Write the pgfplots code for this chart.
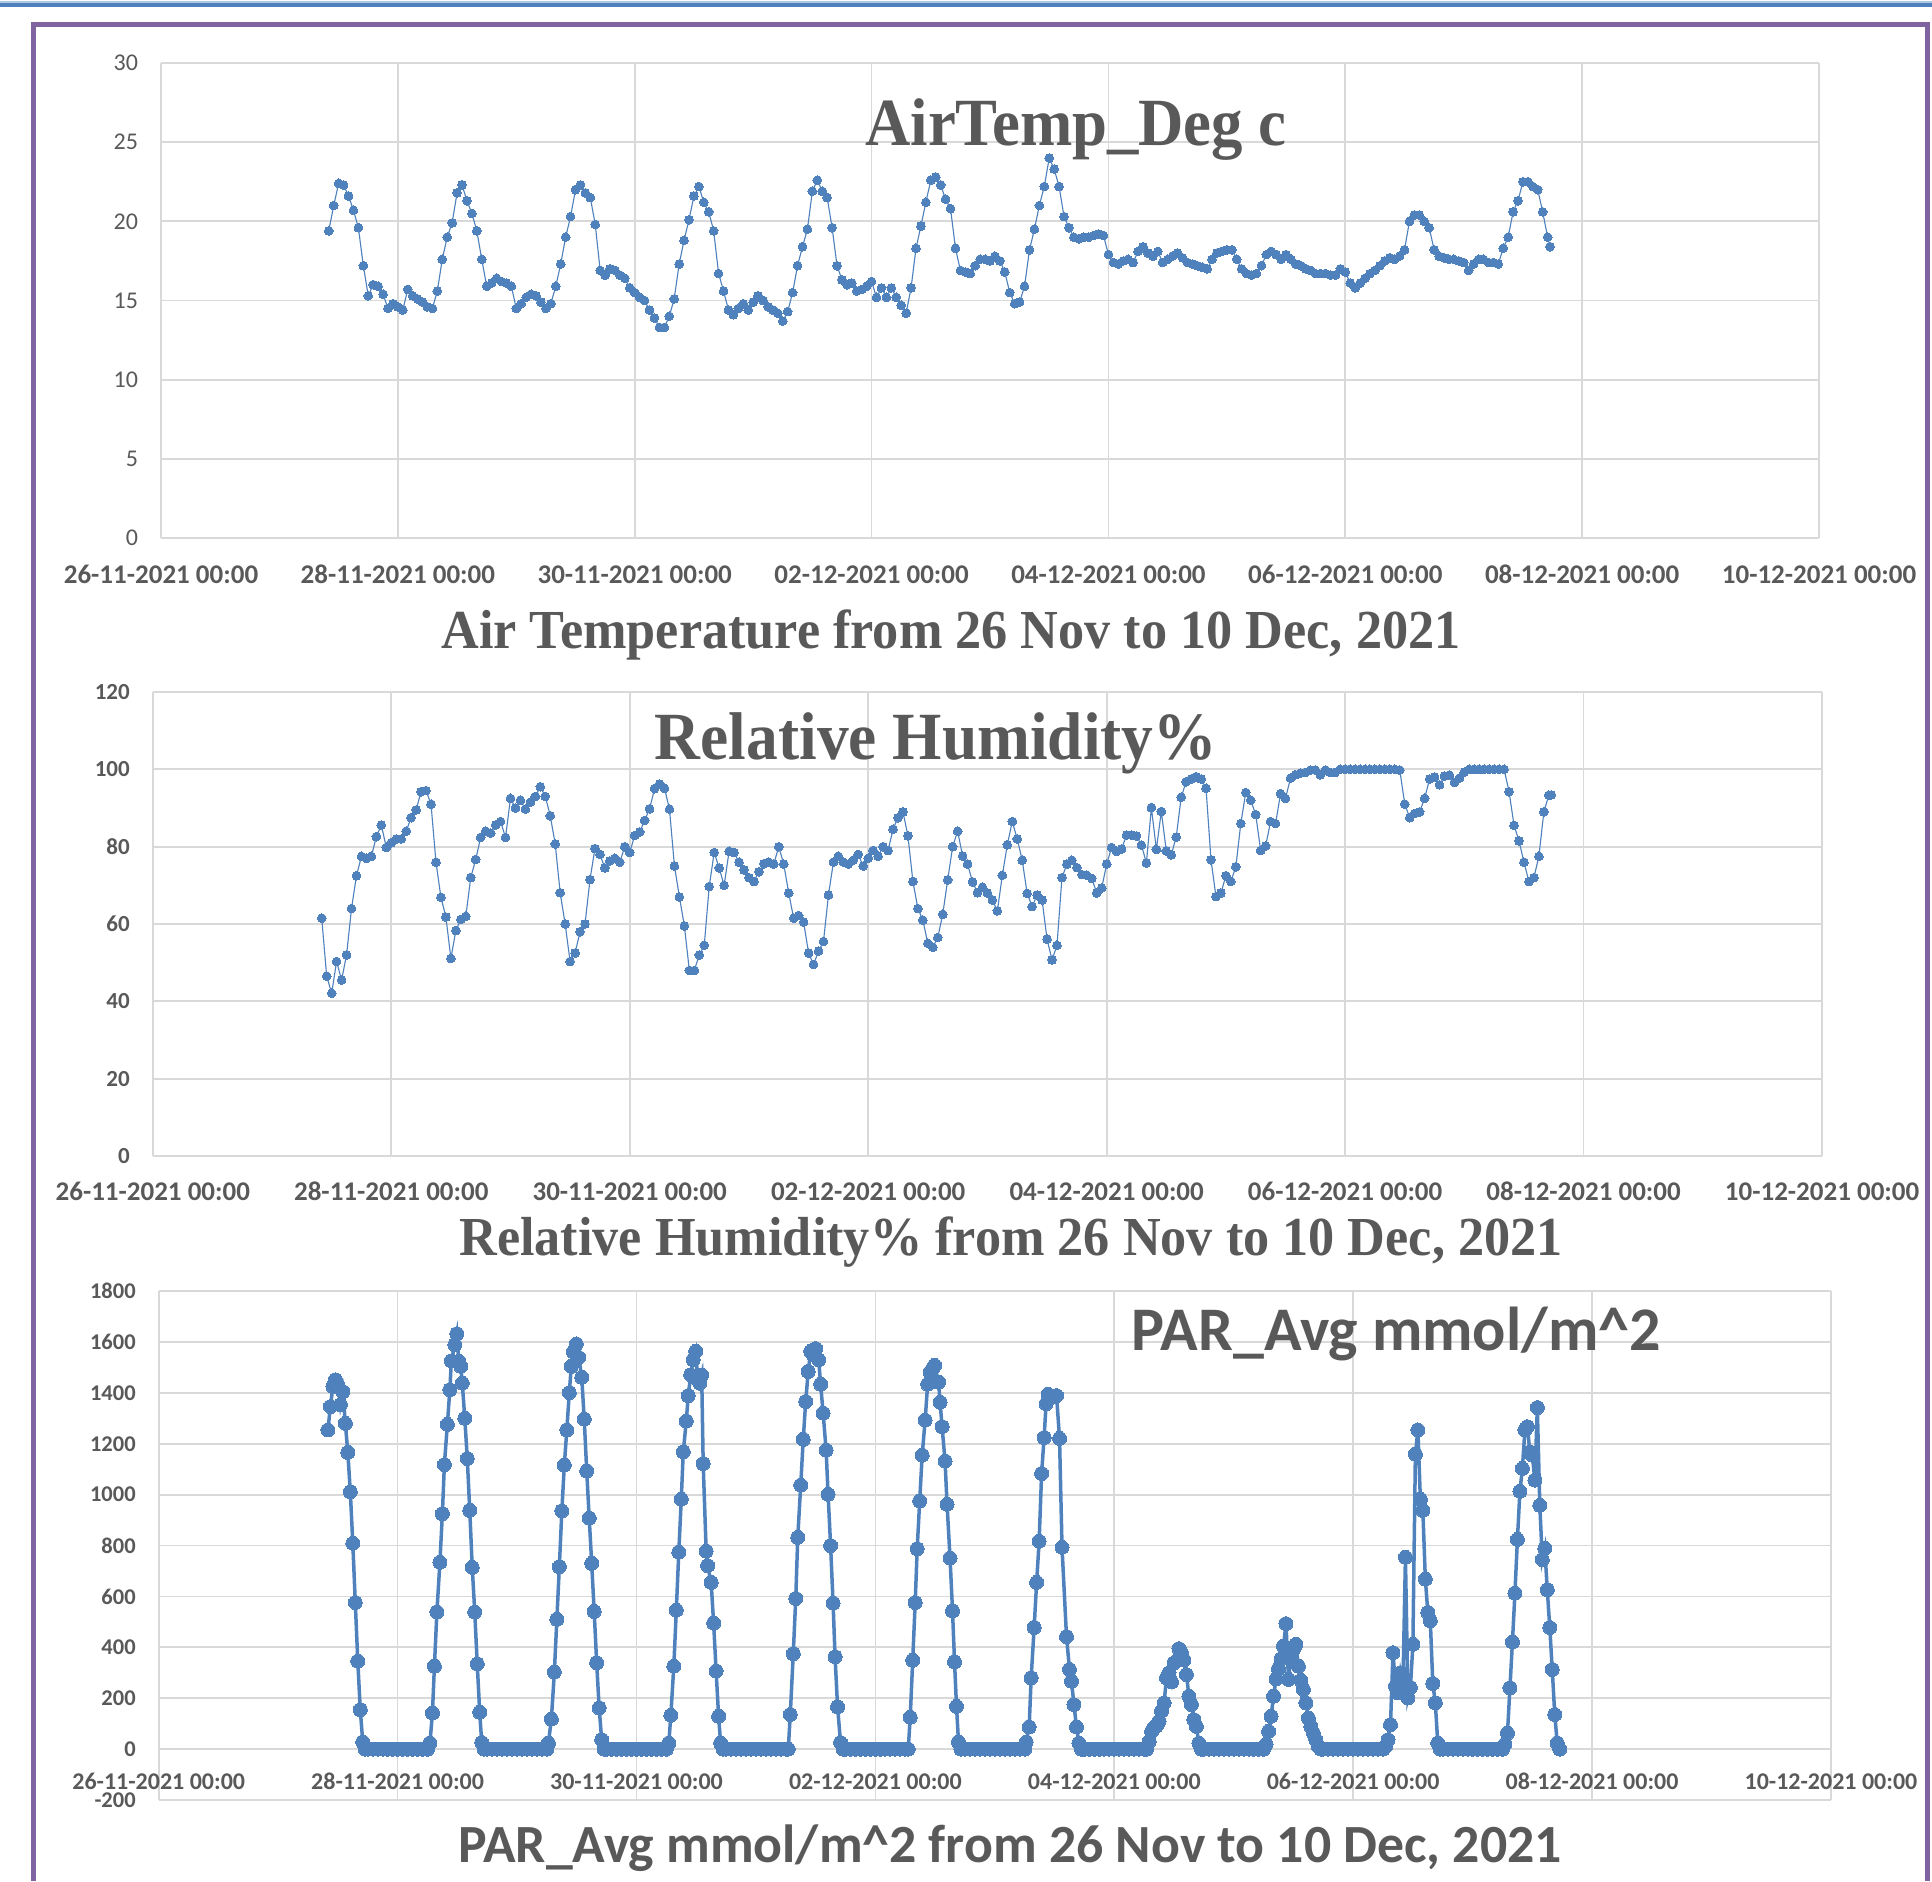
\documentclass[border=0pt]{standalone}
\usepackage{fontspec}
\setmainfont{Carlito}
\newfontfamily\timesfont{Liberation Serif}
\usepackage{pgfplots}
\pgfplotsset{compat=1.18}
\definecolor{ser}{HTML}{4F81BD}
\definecolor{gridc}{HTML}{D9D9D9}
\definecolor{txt}{HTML}{595959}
\definecolor{purp}{HTML}{8064A2}
\pgfplotsset{
  base/.style={
    scale only axis,
    xmin=0, xmax=336,
    xtick={0,48,...,336},
    xticklabels={26-11-2021 00:00,28-11-2021 00:00,30-11-2021 00:00,02-12-2021 00:00,04-12-2021 00:00,06-12-2021 00:00,08-12-2021 00:00,10-12-2021 00:00},
    grid=major,
    grid style={gridc, line width=0.7pt},
    axis line style={gridc, line width=0.7pt},
    axis x line*=bottom, axis y line*=left,
    major tick length=0pt,
    tick style={draw=none},
    /pgf/number format/assume math mode=true,
    /pgf/number format/1000 sep={},
    tick label style={text=txt},
    yticklabel style={anchor=east, inner sep=0pt, xshift=-9pt},
    clip=false,
  },
  smallser/.style={color=ser, line width=0.45pt, mark=*, mark size=1.75pt, mark options={fill=ser, draw=ser, line width=0pt}},
  bigser/.style={color=ser, line width=1.4pt, mark=*, mark size=2.8pt, mark options={fill=ser, draw=ser, line width=0pt}},
}
\begin{document}
\begin{tikzpicture}
\useasboundingbox (0,0) rectangle (772.8pt,-752.4pt);
\fill[ser!45!white] (0,-0.4pt) rectangle (772.8pt,-1.1pt);
\fill[ser] (0,-1.1pt) rectangle (772.8pt,-2.9pt);
\draw[purp, line width=2pt] (13.2pt,-752.4pt) -- (13.2pt,-9.9pt) -- (771pt,-9.9pt) -- (771pt,-752.4pt);

% ---------- Chart 1: Air temperature ----------
\begin{axis}[base, at={(64.4pt,-215.2pt)}, anchor=south west, width=663.2pt, height=190pt,
  ymin=0, ymax=30, ytick={0,5,...,30},
  yticklabel style={font=\fontsize{9.6}{11}\selectfont},
  xticklabel style={font=\bfseries\fontsize{10.8}{12}\selectfont, anchor=base, yshift=-18.1pt},
]
\addplot[smallser] coordinates {
(34,19.4)(35,21.0)(36,22.4)(37,22.3)(38,21.6)(39,20.7)(40,19.6)(41,17.2)(42,15.3)(43,16.0)(44,15.9)(45,15.4)(46,14.5)(47,14.8)(48,14.6)(49,14.4)
(50,15.7)(51,15.3)(52,15.1)(53,14.9)(54,14.6)(55,14.5)(56,15.6)(57,17.6)(58,19.0)(59,19.9)(60,21.8)(61,22.3)(62,21.3)(63,20.5)(64,19.4)(65,17.6)
(66,15.9)(67,16.1)(68,16.4)(69,16.2)(70,16.1)(71,15.9)(72,14.5)(73,14.8)(74,15.2)(75,15.4)(76,15.3)(77,14.9)(78,14.5)(79,14.8)(80,15.9)(81,17.3)
(82,19.0)(83,20.3)(84,22.0)(85,22.3)(86,21.8)(87,21.5)(88,19.8)(89,16.9)(90,16.6)(91,17.0)(92,16.9)(93,16.6)(94,16.4)(95,15.8)(96,15.5)(97,15.2)
(98,15.0)(99,14.4)(100,13.9)(101,13.3)(102,13.3)(103,14.0)(104,15.1)(105,17.3)(106,18.8)(107,20.1)(108,21.6)(109,22.2)(110,21.2)(111,20.6)(112,19.4)
(113,16.7)(114,15.6)(115,14.4)(116,14.1)(117,14.5)(118,14.8)(119,14.4)(120,14.9)(121,15.3)(122,15.0)(123,14.6)(124,14.4)(125,14.2)(126,13.7)(127,14.3)
(128,15.5)(129,17.2)(130,18.4)(131,19.5)(132,21.9)(133,22.6)(134,21.9)(135,21.5)(136,19.6)(137,17.2)(138,16.3)(139,16.0)(140,16.1)(141,15.6)(142,15.7)
(143,15.9)(144,16.2)(145,15.2)(146,15.8)(147,15.2)(148,15.8)(149,15.2)(150,14.7)(151,14.2)(152,15.8)(153,18.3)(154,19.7)(155,21.2)(156,22.6)(157,22.8)
(158,22.3)(159,21.4)(160,20.8)(161,18.3)(162,16.9)(163,16.8)(164,16.7)(165,17.2)(166,17.6)(167,17.6)(168,17.5)(169,17.8)(170,17.5)(171,16.8)(172,15.5)
(173,14.8)(174,14.9)(175,15.9)(176,18.2)(177,19.5)(178,21.0)(179,22.2)(180,24.0)(181,23.3)(182,22.2)(183,20.3)(184,19.6)(185,19.0)(186,18.9)(187,19.0)
(188,19.0)(189,19.1)(190,19.2)(191,19.1)(192,17.9)(193,17.4)(194,17.3)(195,17.5)(196,17.6)(197,17.4)(198,18.1)(199,18.4)(200,18.0)(201,17.8)(202,18.1)
(203,17.4)(204,17.6)(205,17.8)(206,18.0)(207,17.7)(208,17.4)(209,17.3)(210,17.2)(211,17.1)(212,17.0)(213,17.6)(214,18.0)(215,18.1)(216,18.2)(217,18.2)
(218,17.6)(219,17.0)(220,16.7)(221,16.6)(222,16.7)(223,17.2)(224,17.9)(225,18.1)(226,17.9)(227,17.6)(228,17.9)(229,17.6)(230,17.3)(231,17.2)(232,17.0)
(233,16.9)(234,16.7)(235,16.7)(236,16.7)(237,16.6)(238,16.6)(239,17.0)(240,16.8)(241,16.1)(242,15.8)(243,16.1)(244,16.4)(245,16.7)(246,16.9)(247,17.2)
(248,17.5)(249,17.7)(250,17.6)(251,17.8)(252,18.2)(253,20.0)(254,20.4)(255,20.4)(256,20.0)(257,19.6)(258,18.2)(259,17.8)(260,17.7)(261,17.6)(262,17.6)
(263,17.5)(264,17.4)(265,16.9)(266,17.3)(267,17.6)(268,17.6)(269,17.4)(270,17.4)(271,17.3)(272,18.3)(273,19.0)(274,20.6)(275,21.3)(276,22.5)(277,22.5)
(278,22.2)(279,22.0)(280,20.6)(281,19.0)(281.5,18.4)
};
\end{axis}
\node[anchor=base, font=\timesfont\bfseries\fontsize{27}{30}\selectfont, text=txt, inner sep=0pt] at (430.4pt,-58pt) {\scalebox{0.93}[1]{AirTemp\_Deg c}};
\node[anchor=base, font=\timesfont\bfseries\fontsize{22}{26}\selectfont, text=txt, inner sep=0pt] at (380.4pt,-259.3pt) {\scalebox{0.95}[1]{Air Temperature from 26 Nov to 10 Dec, 2021}};

% ---------- Chart 2: Relative humidity ----------
\begin{axis}[base, at={(61.12pt,-462.4pt)}, anchor=south west, width=667.7pt, height=185.6pt,
  ymin=0, ymax=120, ytick={0,20,...,120},
  yticklabel style={font=\bfseries\fontsize{9.2}{11}\selectfont},
  xticklabel style={font=\bfseries\fontsize{10.8}{12}\selectfont, anchor=base, yshift=-17.6pt},
]
\addplot[smallser] coordinates {
(34,61.5)(35,46.5)(36,42.1)(37,50.3)(38,45.5)(39,52.0)(40,64.0)(41,72.5)(42,77.5)(43,77.0)(44,77.5)(45,82.6)(46,85.6)(47,79.8)(48,81.0)(49,82.0)
(50,82.0)(51,84.0)(52,87.5)(53,89.5)(54,94.2)(55,94.5)(56,91.0)(57,76.0)(58,66.9)(59,61.8)(60,51.1)(61,58.3)(62,61.2)(63,62.0)(64,72.0)(65,76.7)
(66,82.4)(67,84.0)(68,83.5)(69,85.6)(70,86.5)(71,82.4)(72,92.5)(73,90.0)(74,92.0)(75,89.7)(76,91.5)(77,93.0)(78,95.5)(79,93.0)(80,88.0)(81,80.7)
(82,68.1)(83,60.0)(84,50.3)(85,52.5)(86,58.0)(87,60.0)(88,71.5)(89,79.5)(90,78.0)(91,74.5)(92,76.3)(93,77.0)(94,76.0)(95,80.0)(96,78.5)(97,82.9)
(98,83.8)(99,86.8)(100,89.8)(101,95.0)(102,96.2)(103,95.1)(104,89.7)(105,75.0)(106,67.0)(107,59.5)(108,48.0)(109,48.0)(110,52.0)(111,54.5)(112,69.7)
(113,78.5)(114,74.5)(115,70.0)(116,78.8)(117,78.5)(118,76.0)(119,74.0)(120,72.0)(121,71.0)(122,73.5)(123,75.6)(124,76.0)(125,75.5)(126,80.0)(127,75.5)
(128,68.0)(129,61.5)(130,62.2)(131,60.5)(132,52.5)(133,49.5)(134,53.0)(135,55.5)(136,67.5)(137,76.0)(138,77.5)(139,76.0)(140,75.5)(141,76.5)(142,78.0)
(143,75.0)(144,77.0)(145,79.0)(146,77.5)(147,80.0)(148,79.0)(149,84.5)(150,87.5)(151,89.0)(152,82.8)(153,71.0)(154,64.0)(155,61.0)(156,55.0)(157,54.0)
(158,56.5)(159,62.5)(160,71.4)(161,80.0)(162,84.0)(163,77.6)(164,75.5)(165,70.9)(166,68.1)(167,69.5)(168,68.0)(169,66.2)(170,63.4)(171,72.6)(172,80.5)
(173,86.5)(174,82.0)(175,76.5)(176,67.9)(177,64.5)(178,67.5)(179,66.2)(180,56.1)(181,50.7)(182,54.5)(183,72.0)(184,75.5)(185,76.5)(186,74.6)(187,72.8)
(188,72.6)(189,71.8)(190,68.0)(191,69.3)(192,75.5)(193,79.8)(194,78.8)(195,79.4)(196,83.0)(197,83.0)(198,82.8)(199,80.4)(200,75.8)(201,90.1)(202,79.3)
(203,89.1)(204,78.9)(205,77.9)(206,82.5)(207,92.8)(208,96.8)(209,97.5)(210,98.1)(211,97.5)(212,95.1)(213,76.6)(214,67.1)(215,68.0)(216,72.5)(217,71.0)
(218,74.8)(219,86.0)(220,94.0)(221,92.0)(222,88.3)(223,79.0)(224,80.2)(225,86.5)(226,86.0)(227,93.7)(228,92.5)(229,97.7)(230,98.6)(231,99.0)(232,99.2)
(233,99.8)(234,99.8)(235,98.6)(236,99.8)(237,99.2)(238,99.2)(239,100)(240,100)(241,100)(242,100)(243,100)(244,100)(245,100)(246,100)(247,100)
(248,100)(249,100)(250,100)(251,99.8)(252,91.0)(253,87.5)(254,88.6)(255,89.0)(256,92.5)(257,97.5)(258,98.0)(259,96.0)(260,98.3)(261,98.5)(262,96.6)
(263,97.7)(264,99.3)(265,100)(266,100)(267,100)(268,100)(269,100)(270,100)(271,100)(272,100)(273,94.2)(274,85.5)(275,81.5)(276,76.0)(277,71.0)
(278,72.0)(279,77.5)(280,89.0)(281,93.3)(281.5,93.4)
};
\end{axis}
\node[anchor=base, font=\timesfont\bfseries\fontsize{27}{30}\selectfont, text=txt, inner sep=0pt] at (374.4pt,-303.6pt) {\scalebox{0.94}[1]{Relative Humidity\%}};
\node[anchor=base, font=\timesfont\bfseries\fontsize{22}{26}\selectfont, text=txt, inner sep=0pt] at (404.4pt,-502pt) {\scalebox{0.95}[1]{Relative Humidity\% from 26 Nov to 10 Dec, 2021}};

% ---------- Chart 3: PAR ----------
\begin{axis}[base, at={(63.48pt,-720pt)}, anchor=south west, width=668.9pt, height=203.6pt,
  ymin=-200, ymax=1800, ytick={-200,0,...,1800},
  yticklabel style={font=\bfseries\fontsize{9}{11}\selectfont},
  xticklabel style={font=\bfseries\fontsize{9.6}{11}\selectfont, anchor=base, yshift=4.3pt},
]
\addplot[bigser] coordinates {
(34.0,1254)(34.5,1346)(35.0,1425)(35.5,1451)(36.0,1429)(36.5,1353)(37.0,1405)(37.5,1280)(38.0,1166)(38.5,1011)(39.0,809)(39.5,576)(40.0,346)(40.5,155)(41.0,28)(41.5,0)
(42,0)(43,0)(44,0)(45,0)(46,0)(47,0)(48,0)(49,0)(50,0)(51,0)(52,0)(53,0)(54,0)
(54.5,24)(55.0,142)(55.4,326)(55.9,539)(56.5,734)(57.0,925)(57.4,1118)(58.0,1276)(58.5,1412)(58.8,1526)(59.5,1589)(59.9,1632)(60.3,1524)(60.7,1504)(61.0,1438)(61.5,1300)(62.0,1142)(62.5,938)(63.0,714)(63.5,539)(64.0,335)(64.5,145)(64.9,26)(65.4,0)
(66,0)(67,0)(68,0)(69,0)(70,0)(71,0)(72,0)(73,0)(74,0)(75,0)(76,0)(77,0)(78,0)
(78.3,24)(78.9,118)(79.5,303)(80.0,510)(80.5,717)(81.0,936)(81.5,1116)(82.0,1254)(82.5,1401)(82.9,1504)(83.3,1561)(83.9,1592)(84.4,1539)(85.0,1461)(85.5,1297)(86.0,1093)(86.5,908)(87.0,730)(87.5,541)(88.0,339)(88.5,162)(89.0,37)(89.5,0)
(90,0)(91,0)(92,0)(93,0)(94,0)(95,0)(96,0)(97,0)(98,0)(99,0)(100,0)(101,0)(102,0)
(102.5,24)(102.9,133)(103.5,326)(104.0,546)(104.5,774)(105.0,982)(105.4,1168)(106.0,1289)(106.4,1389)(106.9,1471)(107.4,1530)(107.9,1563)(108.3,1451)(108.7,1438)(109.1,1470)(109.4,1122)(110.0,778)(110.3,721)(111.0,655)(111.5,495)(112.0,307)(112.5,129)(112.9,24)(113.4,0)
(114,0)(115,0)(116,0)(117,0)(118,0)(119,0)(120,0)(121,0)(122,0)(123,0)(124,0)(125,0)(126,0)
(126.5,0)(126.9,136)(127.5,375)(128.0,592)(128.4,832)(129.0,1037)(129.5,1217)(130.0,1366)(130.5,1484)(131.0,1563)(131.5,1550)(132.0,1574)(132.6,1530)(133.0,1434)(133.5,1320)(134.1,1175)(134.5,1001)(135.0,800)(135.5,574)(135.9,363)(136.4,166)(137.0,26)(137.5,0)
(138,0)(139,0)(140,0)(141,0)(142,0)(143,0)(144,0)(145,0)(146,0)(147,0)(148,0)(149,0)(150,0)
(150.6,0)(151.0,125)(151.5,349)(152.0,576)(152.4,787)(152.9,975)(153.4,1155)(154.0,1293)(154.5,1434)(155.0,1482)(155.5,1495)(155.9,1508)(156.7,1442)(157.0,1363)(157.4,1267)(158.0,1132)(158.4,962)(159.0,751)(159.5,543)(159.9,343)(160.3,168)(160.7,28)(161.2,0)
(162,0)(163,0)(164,0)(165,0)(166,0)(167,0)(168,0)(169,0)(170,0)(171,0)(172,0)(173,0)(174,0)
(174.3,28)(174.9,87)(175.3,280)(175.9,478)(176.4,655)(176.9,817)(177.4,1083)(177.9,1224)(178.3,1357)(178.7,1395)(179.1,1379)(179.8,1386)(180.4,1389)(181.0,1221)(181.5,793)(182.4,442)(183.0,313)(183.4,267)(183.9,175)(184.4,87)(184.9,24)(185.4,0)
(186,0)(187,0)(188,0)(189,0)(190,0)(191,0)(192,0)(193,0)(194,0)(195,0)(196,0)(197,0)(198,0)
(198.5,0)(199.0,30)(199.5,70)(200.0,85)(200.5,92)(201.0,110)(201.5,150)(202.0,182)(202.5,280)(203.0,300)(203.5,264)(204.0,339)(204.5,346)(205.0,395)(205.5,379)(206.0,350)(206.5,293)(207.0,208)(207.5,175)(208.0,116)(208.5,89)(209.0,24)(209.5,0)
(210,0)(211,0)(212,0)(213,0)(214,0)(215,0)(216,0)(217,0)(218,0)(219,0)(220,0)(221,0)(222,0)
(222.5,20)(223.0,70)(223.5,129)(224.0,208)(224.5,276)(225.0,316)(225.5,355)(226.0,405)(226.5,493)(227.0,274)(227.5,366)(228.0,392)(228.5,412)(229.0,326)(229.5,270)(230.0,234)(230.5,182)(231.0,122)(231.5,89)(232.0,63)(232.5,37)(233.0,10)(233.5,0)
(234,0)(235,0)(236,0)(237,0)(238,0)(239,0)(240,0)(241,0)(242,0)(243,0)(244,0)(245,0)(246,0)
(246.5,10)(247.0,37)(247.5,96)(248.0,379)(248.5,247)(249.0,221)(249.5,300)(250.0,250)(250.5,754)(251.0,201)(251.5,241)(252.0,412)(252.5,1159)(253.0,1254)(253.5,982)(254.0,938)(254.5,668)(255.0,537)(255.5,504)(256.0,258)(256.5,182)(257.0,24)(257.5,0)
(258,0)(259,0)(260,0)(261,0)(262,0)(263,0)(264,0)(265,0)(266,0)(267,0)(268,0)(269,0)(270,0)
(270.5,20)(271.0,63)(271.5,241)(272.0,421)(272.5,613)(273.0,824)(273.5,1013)(274.0,1103)(274.5,1254)(275.0,1267)(275.5,1168)(276.0,1155)(276.5,1057)(277.0,1342)(277.5,958)(278.0,745)(278.5,789)(279.0,626)(279.5,478)(280.0,313)(280.5,136)(281.0,24)(281.5,0)
};
\end{axis}
\node[anchor=base, font=\bfseries\fontsize{24.8}{28}\selectfont, text=txt, inner sep=0pt] at (558.6pt,-540.3pt) {PAR\_Avg mmol/m\^{}2};
\node[anchor=base, font=\bfseries\fontsize{21.5}{25}\selectfont, text=txt, inner sep=0pt] at (404pt,-744.8pt) {PAR\_Avg mmol/m\^{}2 from 26 Nov to 10 Dec, 2021};
\end{tikzpicture}
\end{document}
